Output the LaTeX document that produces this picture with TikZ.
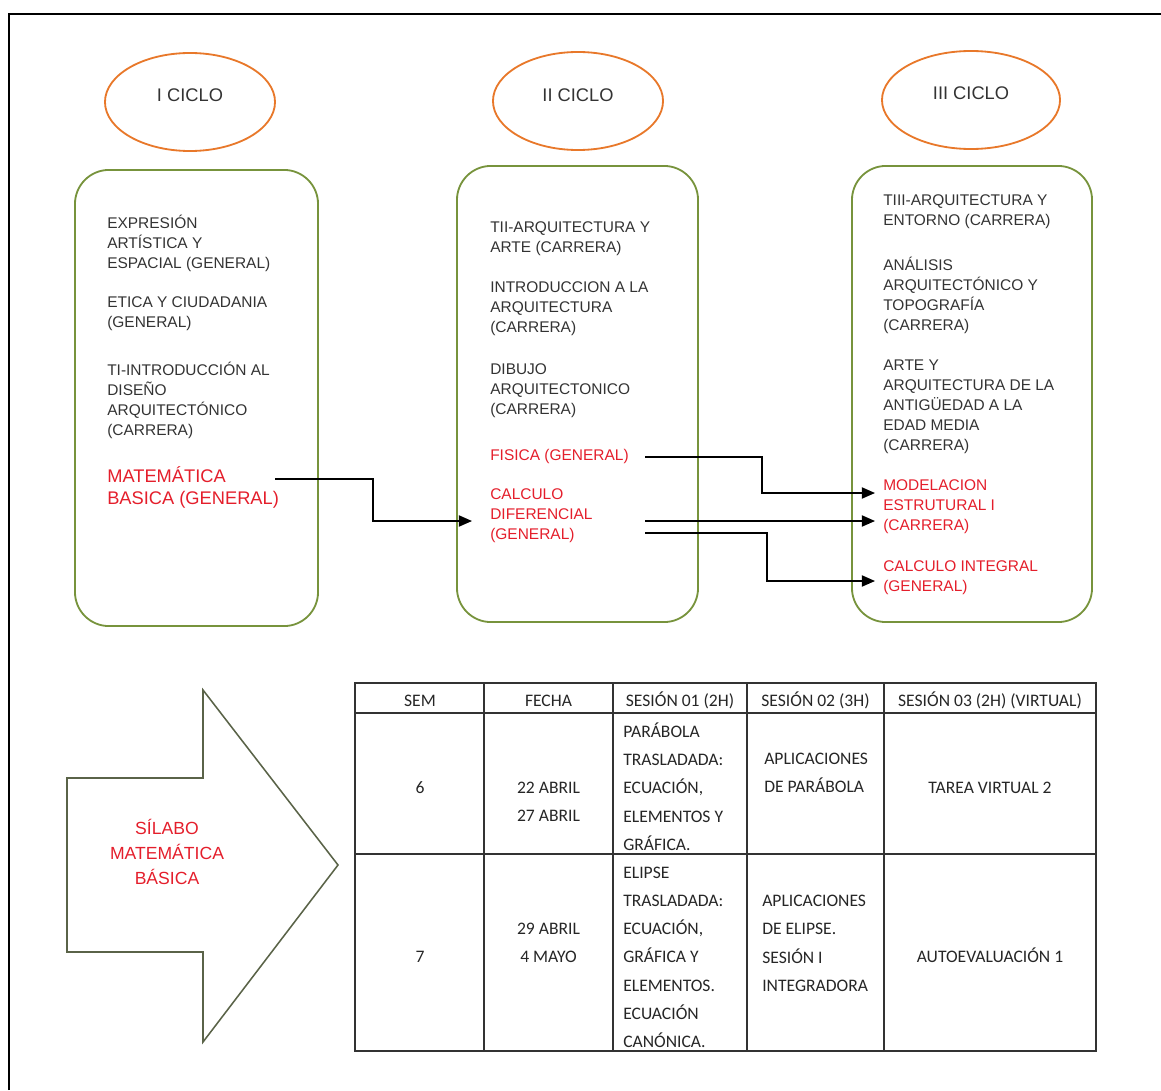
\documentclass[tikz,border=0pt]{standalone}
\usepackage{fontspec}
\setmainfont{Liberation Sans}
\newfontfamily\tabfont{Carlito}
\usetikzlibrary{arrows.meta,shapes.geometric}
\definecolor{boxgreen}{HTML}{77933C}
\definecolor{ellorange}{HTML}{E8782A}
\definecolor{redtxt}{HTML}{E41E2B}
\definecolor{txtgray}{HTML}{333333}
\definecolor{arrowline}{HTML}{5A6348}
\begin{document}
\begin{tikzpicture}[x=0.025cm,y=-0.025cm,
  cyc/.style={draw=ellorange, line width=1.3pt, ellipse, inner sep=0, minimum height=2.45cm},
  cyctxt/.style={anchor=base, inner sep=0, text=txtgray, font=\fontsize{13}{15.6}\selectfont},
  cbox/.style={draw=boxgreen, line width=1.3pt, rounded corners=0.85cm, inner sep=0, minimum height=11.4cm},
  txt/.style={anchor=north west, inner sep=0, align=left, text=txtgray, font=\fontsize{11}{14.2}\selectfont, execute at begin node=\strut},
  rtxt/.style={txt, text=redtxt},
  bigred/.style={txt, text=redtxt, font=\fontsize{13}{15.6}\selectfont},
  conn/.style={line width=1.1pt, black, -{Triangle[length=0.33cm,width=0.28cm]}},
  tabline/.style={line width=1.1pt, draw=black!80},
  tabtxt/.style={inner sep=0, text=black!85, font=\tabfont\fontsize{12.5}{20.1}\selectfont, execute at begin node=\strut},
  frame/.style={line width=2pt, black}]
\useasboundingbox (0,0) rectangle (1161,1090);
% outer frame (left and top edges visible)
\draw[frame] (9,1090) -- (9,14) -- (1161,14);

% cycle ellipses
\node[cyc, minimum width=4.25cm] (c1) at (190,102) {};
\node[cyc, minimum width=4.25cm] (c2) at (578,101) {};
\node[cyc, minimum width=4.45cm] (c3) at (971,100) {};
\node[cyctxt] (c1t) at (190,101.5) {I CICLO};
\node[cyctxt] (c2t) at (578,101.5) {II CICLO};
\node[cyctxt] (c3t) at (971,99.5) {III CICLO};

% course boxes
\node[cbox, minimum width=6.075cm] (b1) at (196.5,398) {};
\node[cbox, minimum width=6.025cm] (b2) at (577.5,394) {};
\node[cbox, minimum width=6.0cm] (b3) at (972,394) {};

% box I
\node[txt] (i1) at (107,214.5) {EXPRESIÓN\\ARTÍSTICA Y\\ESPACIAL (GENERAL)};
\node[txt] (i2) at (107,296.5) {ETICA Y CIUDADANIA\\(GENERAL)};
\node[txt] (i3) at (107,361.5) {TI-INTRODUCCIÓN AL\\DISEÑO\\ARQUITECTÓNICO\\(CARRERA)};
\node[bigred] (i4) at (107,466) {MATEMÁTICA\\BASICA (GENERAL)};

% box II
\node[txt] (ii1) at (490,221.5) {TII-ARQUITECTURA Y\\ARTE (CARRERA)};
\node[txt] (ii2) at (490,281.5) {INTRODUCCION A LA\\ARQUITECTURA\\(CARRERA)};
\node[txt] (ii3) at (490,363.5) {DIBUJO\\ARQUITECTONICO\\(CARRERA)};
\node[rtxt] (ii4) at (490,446.5) {FISICA (GENERAL)};
\node[rtxt] (ii5) at (490,488.5) {CALCULO\\DIFERENCIAL\\(GENERAL)};

% box III
\node[txt] (iii1) at (883,194.5) {TIII-ARQUITECTURA Y\\ENTORNO (CARRERA)};
\node[txt] (iii2) at (883,256.5) {ANÁLISIS\\ARQUITECTÓNICO Y\\TOPOGRAFÍA\\(CARRERA)};
\node[txt] (iii3) at (883,359.5) {ARTE Y\\ARQUITECTURA DE LA\\ANTIGÜEDAD A LA\\EDAD MEDIA\\(CARRERA)};
\node[rtxt] (iii4) at (883,479.5) {MODELACION\\ESTRUTURAL I\\(CARRERA)};
\node[rtxt] (iii5) at (883,560.5) {CALCULO INTEGRAL\\(GENERAL)};

% connector end points
\coordinate (s1) at (275,479);
\coordinate (t1) at (472,521);
\coordinate (s2) at (645,457);
\coordinate (t2) at (875,493);
\coordinate (s3) at (645,521);
\coordinate (t3) at (875,521);
\coordinate (s4) at (645,533);
\coordinate (t4) at (875,581);
\draw[conn] (s1) -- (373,479) |- (t1);
\draw[conn] (s2) -- (762,457) |- (t2);
\draw[conn] (s3) -- (t3);
\draw[conn] (s4) -- (767,533) |- (t4);

% big arrow
\draw[line width=1.1pt, draw=arrowline, line join=miter]
  (67,778) -- (203,778) -- (203,690) -- (338,865) -- (203,1042) -- (203,952) -- (67,952) -- cycle;
\node[anchor=north, inner sep=0, align=center, text=redtxt, font=\fontsize{12.5}{17.8}\selectfont, execute at begin node=\strut] (sil) at (167,819) {SÍLABO\\MATEMÁTICA\\BÁSICA};

% table
\draw[tabline] (355,683) rectangle (1096,1051);
\draw[tabline] (355,713) -- (1096,713);
\draw[tabline] (355,854) -- (1096,854);
\foreach \xx in {484,613,747,884} \draw[tabline] (\xx,683) -- (\xx,1051);

\node[tabtxt, anchor=base] (h1) at (420,706) {SEM};
\node[tabtxt, anchor=base] (h2) at (548.5,706) {FECHA};
\node[tabtxt, anchor=base] (h3) at (680,706) {SESIÓN 01 (2H)};
\node[tabtxt, anchor=base] (h4) at (815.5,706) {SESIÓN 02 (3H)};
\node[tabtxt, anchor=base] (h5) at (990,706) {SESIÓN 03 (2H) (VIRTUAL)};

\node[tabtxt, anchor=base] (r1a) at (420,793) {6};
\node[tabtxt, anchor=north, align=center] (r1b) at (548.5,782) {22 ABRIL\\27 ABRIL};
\node[tabtxt, anchor=north west, align=left] (r1c) at (623,722.5) {PARÁBOLA\\TRASLADADA:\\ECUACIÓN,\\ELEMENTOS Y\\GRÁFICA.};
\node[tabtxt, anchor=north west, align=left] (r1d) at (764,753) {APLICACIONES\\DE PARÁBOLA};
\node[tabtxt, anchor=base] (r1e) at (990,793) {TAREA VIRTUAL 2};

\node[tabtxt, anchor=base] (r2a) at (420,962) {7};
\node[tabtxt, anchor=north, align=center] (r2b) at (548.5,923) {29 ABRIL\\4 MAYO};
\node[tabtxt, anchor=north west, align=left] (r2c) at (623,866.5) {ELIPSE\\TRASLADADA:\\ECUACIÓN,\\GRÁFICA Y\\ELEMENTOS.\\ECUACIÓN\\CANÓNICA.};
\node[tabtxt, anchor=north west, align=left] (r2d) at (762,895) {APLICACIONES\\DE ELIPSE.\\SESIÓN I\\INTEGRADORA};
\node[tabtxt, anchor=base] (r2e) at (990,962) {AUTOEVALUACIÓN 1};
\end{tikzpicture}
\end{document}
